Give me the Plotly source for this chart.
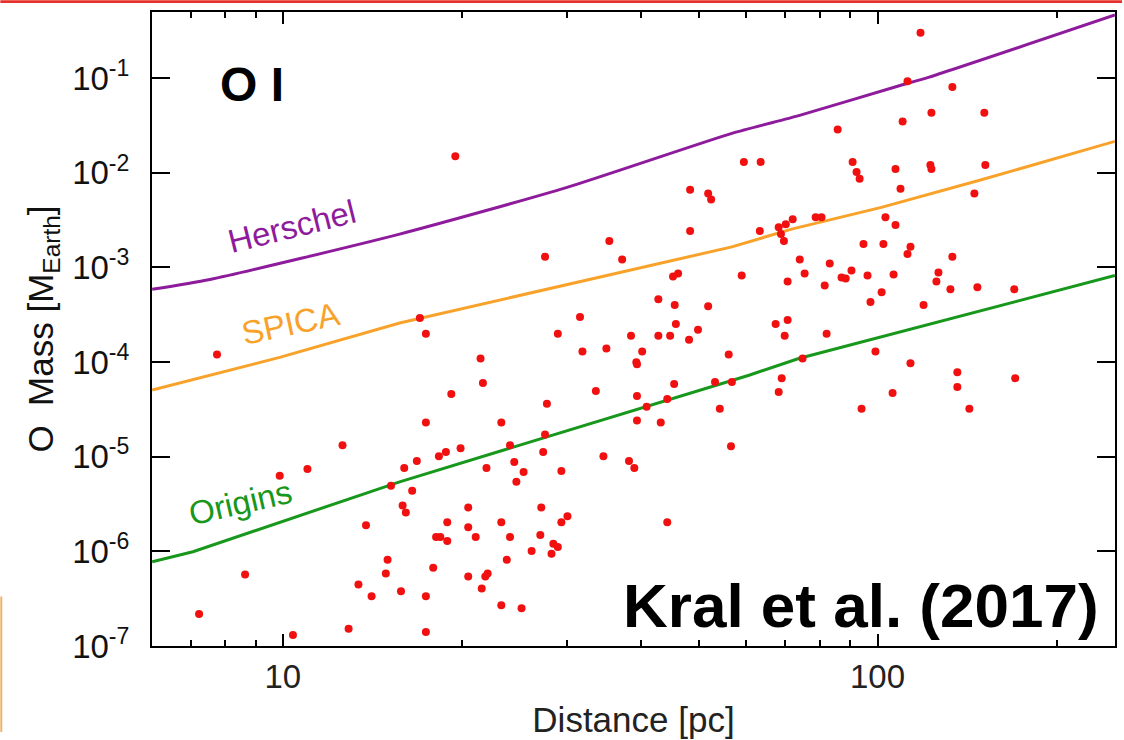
import plotly.graph_objects as go

# ---- sensitivity curves (distance [pc], O mass [M_Earth]) ----
herschel_d = [6.03, 7.54, 15.72, 29.96, 56.9, 73.7, 108.4, 121.8, 250.7]
herschel_m = [5.87e-4, 7.46e-4, 2.25e-3, 6.97e-3, 2.61e-2, 4.02e-2, 8.26e-2, 0.102, 0.465]

spica_d = [6.03, 9.88, 15.72, 56.9, 71.7, 101.5, 149.5, 250.7]
spica_m = [5.07e-5, 1.12e-4, 2.59e-4, 1.65e-3, 2.54e-3, 4.31e-3, 8.43e-3, 2.15e-2]

origins_d = [6.03, 7.06, 15.72, 60.8, 73.7, 250.7]
origins_m = [7.78e-7, 9.9e-7, 5.43e-6, 7.26e-5, 1.09e-4, 8.21e-4]

# ---- debris discs ----
disc_d = [19.5, 59.6, 63.6, 48.4, 51.9, 52.5, 48.4, 63.4, 35.4, 68.2, 70.1, 72.0, 68.8, 69.6,
          118.1, 112.3, 133.6, 123.2, 151.2, 110.2, 85.7, 90.8, 92.2, 93.3, 107.2, 122.7, 123.2,
          151.8, 109.3, 145.5, 103.1, 107.2, 78.7, 80.5, 94.7, 102.3, 113.6,
          74.0, 83.1, 75.4, 70.6, 81.5, 87.0, 88.4, 90.4, 96.2, 106.4, 101.6, 97.3, 112.3, 133.6,
          126.6, 125.6, 132.6, 147.2, 169.8, 119.5, 67.4, 70.6, 69.8, 82.1, 74.8, 99.2, 113.6,
          136.2, 136.2, 170.4, 69.0, 68.2, 106.0, 94.0, 142.7,
          27.6, 37.2, 45.3, 46.2, 59.1, 42.8, 45.6, 51.9, 31.6, 17.0, 17.4, 29.0, 38.5, 42.8, 44.8,
          45.8, 49.9, 48.2, 31.9, 35.0, 40.2, 39.3, 39.4, 56.2, 21.5, 21.7, 19.2, 33.6, 39.4, 45.5,
          53.3, 56.9, 44.3, 40.9, 39.4, 43.2, 54.3, 56.7, 27.8, 17.4, 23.3, 27.6, 24.1, 19.9, 18.8,
          18.3, 16.8, 16.0, 27.4, 34.6, 38.2, 39.0, 22.0, 24.5, 25.4, 29.4, 24.7, 16.5,
          15.9, 16.1, 20.5, 27.2, 18.9, 20.5, 23.3, 29.4, 30.1, 44.3, 18.1, 18.4, 18.9, 21.1, 24.1,
          27.1, 28.5, 29.0, 28.3, 26.2, 23.8, 17.9, 20.5, 21.9, 22.1, 21.6, 15.8, 17.4, 23.3, 25.2,
          17.4, 15.2, 13.8, 15.0, 14.9, 13.4, 14.1, 7.23, 8.64, 9.88, 10.4, 12.9, 7.75, 11.0, 12.6]
disc_m = [1.50e-2, 1.30e-2, 1.30e-2, 6.64e-3, 6.03e-3, 5.22e-3, 2.42e-3, 2.42e-3, 1.90e-3,
          2.66e-3, 2.86e-3, 3.23e-3, 2.25e-3, 1.90e-3,
          0.302, 9.30e-2, 8.06e-2, 4.32e-2, 4.32e-2, 3.48e-2, 2.87e-2, 1.30e-2, 1.02e-2, 8.64e-3,
          1.10e-2, 1.21e-2, 1.10e-2, 1.21e-2, 6.79e-3, 6.03e-3, 3.39e-3, 2.80e-3, 3.39e-3, 3.39e-3,
          1.77e-3, 1.77e-3, 1.65e-3,
          1.21e-3, 1.10e-3, 8.62e-4, 7.11e-4, 6.46e-4, 7.83e-4, 7.64e-4, 9.26e-4, 8.21e-4, 8.41e-4,
          5.46e-4, 4.30e-4, 1.39e-3, 1.30e-3, 8.83e-4, 7.11e-4, 5.87e-4, 6.16e-4, 5.87e-4, 4.00e-4,
          2.53e-4, 2.79e-4, 1.90e-4, 1.99e-4, 1.09e-4, 1.29e-4, 9.69e-5, 7.81e-5, 5.45e-5, 6.76e-5,
          6.76e-5, 4.83e-5, 4.72e-5, 3.21e-5, 3.21e-5,
          1.30e-3, 1.21e-3, 8.02e-4, 8.62e-4, 8.21e-4, 4.62e-4, 4.00e-4, 3.90e-4, 3.00e-4, 2.92e-4,
          1.99e-4, 1.99e-4, 1.90e-4, 1.90e-4, 1.90e-4, 2.53e-4, 2.19e-4, 1.72e-4, 1.29e-4, 1.39e-4,
          1.29e-4, 9.93e-5, 9.46e-5, 1.20e-4, 1.09e-4, 6.00e-5, 4.61e-5, 4.95e-5, 4.39e-5, 5.85e-5,
          6.14e-5, 6.14e-5, 4.08e-5, 3.37e-5, 2.41e-5, 2.30e-5, 3.21e-5, 1.29e-5, 3.62e-5, 2.30e-5,
          2.30e-5, 1.72e-5, 1.32e-5, 1.23e-5, 1.12e-5, 1.01e-5, 9.0e-6, 7.60e-6, 1.12e-5, 1.01e-5,
          9.0e-6, 7.60e-6, 7.60e-6, 8.78e-6, 6.91e-6, 7.08e-6, 5.43e-6, 4.38e-6,
          3.05e-6, 2.58e-6, 2.91e-6, 2.91e-6, 2.03e-6, 1.80e-6, 2.03e-6, 2.03e-6, 2.35e-6, 2.03e-6,
          1.42e-6, 1.42e-6, 1.29e-6, 1.42e-6, 1.42e-6, 1.49e-6, 1.20e-6, 1.11e-6, 9.42e-7, 1.01e-6,
          8.15e-7, 6.73e-7, 5.42e-7, 5.42e-7, 5.83e-7, 4.06e-7, 3.78e-7, 3.35e-7, 2.70e-7, 2.51e-7,
          1.41e-7, 4.94e-6, 1.89e-6, 8.15e-7, 5.83e-7, 4.47e-7, 3.35e-7, 2.18e-7, 5.69e-7, 6.28e-6,
          1.31e-7, 1.52e-7, 1.20e-4, 7.43e-6, 1.32e-5]

y_tickvals = [1e-7, 1e-6, 1e-5, 1e-4, 1e-3, 1e-2, 1e-1]
y_ticktext = ["10<sup>-7</sup>", "10<sup>-6</sup>", "10<sup>-5</sup>", "10<sup>-4</sup>",
              "10<sup>-3</sup>", "10<sup>-2</sup>", "10<sup>-1</sup>"]
x_tickvals = [10, 100]
x_ticktext = ["10", "100"]
x_minor_ticks = [7, 8, 9, 20, 30, 40, 50, 60, 70, 80, 90, 200]

PURPLE = "#8e1b9c"
ORANGE = "#f8a22a"
GREEN = "#17971b"
RED = "#f01010"
FONT = "Liberation Sans, Arial, Helvetica, sans-serif"
X_RANGE = [0.7800, 2.3993]

fig = go.Figure()
fig.add_trace(go.Scatter(x=herschel_d, y=herschel_m, mode="lines",
                         line=dict(color=PURPLE, width=3, shape="spline", smoothing=0.6),
                         hoverinfo="skip"))
fig.add_trace(go.Scatter(x=spica_d, y=spica_m, mode="lines",
                         line=dict(color=ORANGE, width=3), hoverinfo="skip"))
fig.add_trace(go.Scatter(x=origins_d, y=origins_m, mode="lines",
                         line=dict(color=GREEN, width=3), hoverinfo="skip"))
fig.add_trace(go.Scatter(x=disc_d, y=disc_m, mode="markers",
                         marker=dict(color=RED, size=8, line=dict(width=0))))
# invisible trace to anchor the minor-tick overlay axis
fig.add_trace(go.Scatter(x=[x_minor_ticks[0]], y=[y_tickvals[0]], xaxis="x2", mode="markers",
                         marker=dict(size=1, opacity=0), hoverinfo="skip"))

fig.update_layout(
    width=1124, height=740,
    margin=dict(l=152, r=7, t=12, b=87),
    paper_bgcolor="white", plot_bgcolor="white",
    showlegend=False,
    font=dict(family=FONT, color="#111111"),
)
fig.update_layout(
    xaxis=dict(
        type="log", range=X_RANGE,
        tickmode="array", tickvals=x_tickvals, ticktext=x_ticktext,
        ticks="inside", ticklen=12, tickwidth=2, tickcolor="black",
        showline=True, linecolor="black", linewidth=2, mirror="ticks",
        showgrid=False, zeroline=False,
        tickfont=dict(size=33, color="#222222"),
        title=dict(text="Distance [pc]", font=dict(size=35, color="#222222"), standoff=14),
    ),
    xaxis2=dict(
        type="log", range=X_RANGE, overlaying="x", side="bottom", anchor="y",
        tickmode="array", tickvals=x_minor_ticks,
        ticks="inside", ticklen=6, tickwidth=2, tickcolor="black",
        showticklabels=False, showline=False, mirror="ticks",
        showgrid=False, zeroline=False,
    ),
    yaxis=dict(
        type="log", range=[-7.0, -0.301],
        tickmode="array", tickvals=y_tickvals, ticktext=y_ticktext,
        ticks="inside", ticklen=18, tickwidth=2, tickcolor="black",
        showline=True, linecolor="black", linewidth=2, mirror="ticks",
        showgrid=False, zeroline=False,
        tickfont=dict(size=33, color="#111111"),
        ticklabelstandoff=14,
        title=dict(text="O  Mass [M<sub>Earth</sub>]", font=dict(size=35, color="#111111"),
                   standoff=8),
    ),
)

annotations = [
    dict(text="<b>O I</b>", x=0.0684, y=0.885, xanchor="left", yanchor="middle",
         font=dict(size=48, color="black")),
    dict(text="<b>Kral et al. (2017)</b>", x=0.9855, y=0.064, xanchor="right", yanchor="middle",
         font=dict(size=62, color="black")),
    dict(text="Herschel", x=0.145, y=0.661, textangle=-14, font=dict(size=33, color=PURPLE)),
    dict(text="SPICA", x=0.144, y=0.509, textangle=-12, font=dict(size=33, color=ORANGE)),
    dict(text="Origins", x=0.0922, y=0.226, textangle=-13, font=dict(size=33, color=GREEN)),
]
for a in annotations:
    a.update(xref="paper", yref="paper", showarrow=False)
    a.setdefault("xanchor", "center")
    a.setdefault("yanchor", "middle")
fig.update_layout(annotations=annotations)

# slide decorations around the chart
fig.add_shape(type="rect", xref="paper", yref="paper", x0=-0.1575, x1=1.0073,
              y0=1.0140, y1=1.0187, fillcolor="#e8302a", line=dict(width=0), layer="above")
fig.add_shape(type="rect", xref="paper", yref="paper", x0=-0.1575, x1=-0.1555,
              y0=-0.1357, y1=0.078, fillcolor="#f0b060", line=dict(width=0), layer="above")

fig.write_html("out.html")
